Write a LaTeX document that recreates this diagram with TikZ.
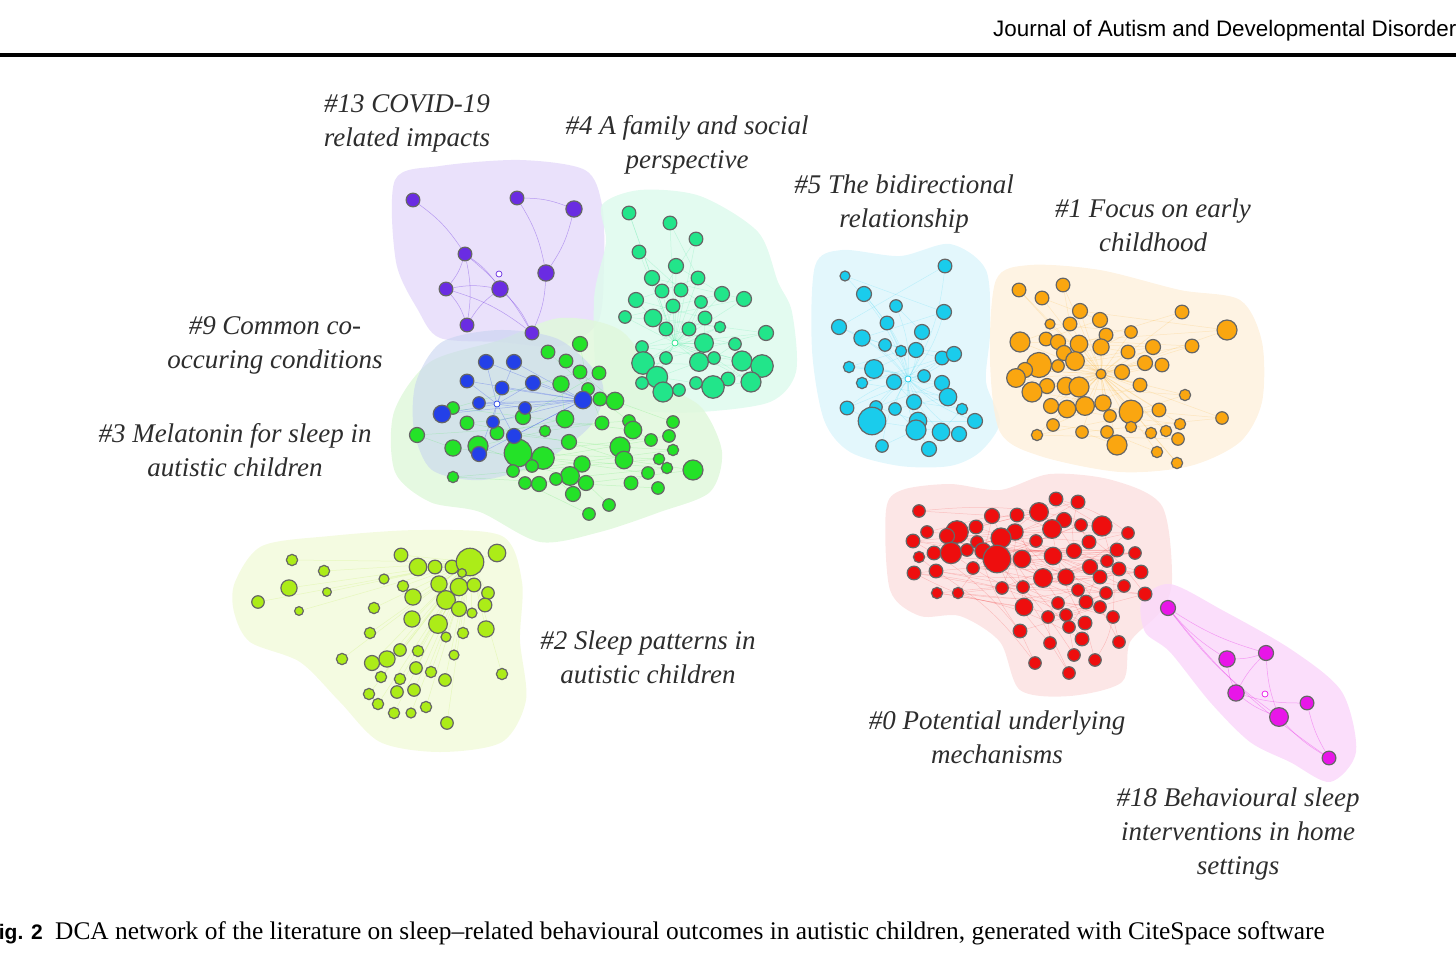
\documentclass[tikz,border=0pt]{standalone}
\usepackage{fontspec}
\setmainfont{Liberation Serif}
\setsansfont{Liberation Sans}
\pgfdeclarelayer{hull}
\pgfdeclarelayer{edges}
\pgfsetlayers{hull,edges,main}

\definecolor{covidc}{RGB}{106,44,226}
\definecolor{covidh}{RGB}{230,220,250}
\definecolor{familyc}{RGB}{34,229,138}
\definecolor{familyh}{RGB}{222,250,237}
\definecolor{comorbc}{RGB}{35,64,232}
\definecolor{comorbh}{RGB}{200,212,240}
\definecolor{melatc}{RGB}{36,226,40}
\definecolor{melath}{RGB}{224,248,220}
\definecolor{bidirc}{RGB}{26,204,236}
\definecolor{bidirh}{RGB}{222,246,252}
\definecolor{earlyc}{RGB}{250,166,16}
\definecolor{earlyh}{RGB}{254,241,222}
\definecolor{mechc}{RGB}{238,14,14}
\definecolor{mechh}{RGB}{252,226,226}
\definecolor{homec}{RGB}{232,22,232}
\definecolor{homeh}{RGB}{250,216,250}
\definecolor{patternc}{RGB}{172,236,24}
\definecolor{patternh}{RGB}{242,250,220}
\definecolor{tagc}{RGB}{45,45,45}

\tikzset{
  paper/.style={circle, inner sep=0pt, draw=black!60, line width=1.2pt},
  hollow/.style={circle, inner sep=0pt, minimum size=6pt, fill=white, line width=0.7pt},
  link/.style={line width=0.5pt, opacity=0.18},
  hullfill/.style={opacity=0.85},
  tag/.style={font=\itshape\fontsize{27}{34}\selectfont, text=tagc, align=center},
}

\begin{document}
\begin{tikzpicture}[x=1pt, y=-1pt]
\useasboundingbox (0,0) rectangle (1456,974);

% header
\node[anchor=base west, font=\sffamily\fontsize{22.4}{22}\selectfont, inner sep=0pt] (journal) at (993,37) {Journal of Autism and Developmental Disorder};
\draw[line width=3.5pt] (0,55) -- (1456,55);

% cluster hulls
\begin{pgfonlayer}{hull}
\fill[covidh, hullfill] plot[smooth cycle] coordinates {(395,180) (440,166) (520,160) (585,170) (602,205) (604,262) (598,322) (560,346) (500,342) (440,338) (418,310) (396,262)};
\fill[familyh, hullfill] plot[smooth cycle] coordinates {(602,205) (640,190) (700,196) (758,232) (778,282) (792,312) (796,372) (770,402) (700,412) (640,410) (600,392) (594,300) (606,242)};
\fill[melath, hullfill] plot[smooth cycle] coordinates {(394,412) (430,362) (500,340) (560,318) (620,330) (662,382) (702,408) (722,452) (710,492) (660,512) (600,532) (540,542) (480,512) (430,502) (395,472)};
\fill[comorbh, opacity=0.6] plot[smooth cycle] coordinates {(416,382) (442,342) (500,330) (560,340) (602,382) (592,424) (542,462) (482,480) (432,470) (414,430)};
\fill[patternh, hullfill] plot[smooth cycle] coordinates {(235,582) (262,546) (330,536) (420,530) (502,536) (522,582) (520,640) (526,700) (502,742) (440,752) (380,742) (340,702) (300,662) (250,642) (234,612)};
\fill[bidirh, hullfill] plot[smooth cycle] coordinates {(815,266) (842,250) (900,256) (950,244) (986,270) (990,332) (986,382) (1000,422) (980,452) (950,466) (900,466) (850,452) (824,420) (812,350)};
\fill[earlyh, hullfill] plot[smooth cycle] coordinates {(996,280) (1030,265) (1100,270) (1180,290) (1240,300) (1262,342) (1262,402) (1240,442) (1190,466) (1120,472) (1040,456) (1000,432) (990,360)};
\fill[mechh, hullfill] plot[smooth cycle] coordinates {(886,510) (902,490) (950,484) (1000,490) (1050,474) (1112,480) (1162,506) (1172,580) (1160,612) (1130,642) (1122,682) (1070,696) (1020,690) (1000,642) (960,616) (920,616) (890,590)};
\fill[homeh, hullfill] plot[smooth cycle] coordinates {(1142,600) (1170,584) (1222,610) (1292,650) (1342,692) (1356,752) (1330,782) (1290,762) (1250,742) (1210,702) (1170,652) (1145,632)};
\end{pgfonlayer}

% #13 COVID-19
\foreach \x/\y/\d [count=\i] in {413/200/11, 517/198/11, 574/209/13, 465/254/11, 546/273/13, 446/289/11, 500/289/13, 467/325/11, 532/333/11}
  \node[paper, fill=covidc, minimum size={1.25*\d pt}] (covid-\i) at (\x,\y) {};
\node[hollow, draw=covidc] (covid-h) at (499,274) {};
\begin{pgfonlayer}{edges}
\foreach \a/\b in {1/4, 2/5, 2/3, 3/5, 4/6, 4/7, 4/8, 4/9, 6/7, 6/9, 6/8, 7/9, 8/7, 5/9}
  \draw[link, covidc, opacity=0.4] (covid-\a) to[bend left=10] (covid-\b);
\end{pgfonlayer}

% #4 A family and social perspective
\foreach \x/\y/\d [count=\i] in {629/213/11, 670/223/11, 696/239/11, 639/252/11, 676/266/12, 652/278/12, 698/278/11, 662/291/11, 681/290/11, 722/294/12, 744/299/12, 636/300/12, 673/306/11, 701/302/10, 625/317/10, 653/318/14, 705/318/11, 666/329/11, 689/329/11, 720/327/9, 766/333/12, 704/343/15, 735/344/10, 642/347/10, 643/363/18, 666/358/10, 699/362/15, 714/358/10, 742/361/16, 762/366/18, 657/377/17, 642/383/10, 751/382/16, 728/379/11, 713/387/18, 696/383/10, 663/392/16, 679/390/10}
  {\node[paper, fill=familyc, minimum size={1.25*\d pt}] (family-\i) at (\x,\y) {}; \xdef\nfamily{\i}}
\node[hollow, draw=familyc] (family-h) at (675,343) {};
\begin{pgfonlayer}{edges}
\pgfmathtruncatemacro\lim{\nfamily-5}
\foreach \i in {1,...,\lim}{
  \pgfmathtruncatemacro\j{\i+5}
  \draw[link, familyc] (family-\i) -- (family-\j);
  \draw[link, familyc] (family-\i) -- (family-h);
}
\end{pgfonlayer}

% #3 Melatonin for sleep in autistic children
\foreach \x/\y/\d [count=\i] in {580/344/12, 548/352/11, 566/361/11, 580/372/11, 599/373/11, 561/384/13, 588/389/10, 600/399/11, 615/401/14, 453/408/10, 523/417/12, 565/419/14, 602/423/11, 629/421/10, 673/422/10, 633/430/14, 467/423/11, 497/433/11, 545/431/9, 417/435/12, 669/436/10, 651/440/10, 569/442/12, 620/447/16, 478/446/16, 453/448/13, 518/453/22, 543/458/18, 624/460/14, 673/450/9, 532/466/10, 582/464/13, 659/459/9, 667/468/9, 693/470/16, 513/471/10, 570/476/15, 648/473/10, 453/477/9, 556/479/10, 586/483/12, 525/483/10, 539/484/12, 631/483/11, 658/488/10, 573/494/12, 609/505/10, 589/514/10}
  {\node[paper, fill=melatc, minimum size={1.25*\d pt}] (melat-\i) at (\x,\y) {}; \xdef\nmelat{\i}}
\begin{pgfonlayer}{edges}
\pgfmathtruncatemacro\lim{\nmelat-6}
\foreach \i in {1,...,\lim}{
  \pgfmathtruncatemacro\j{\i+6}
  \draw[link, melatc] (melat-\i) -- (melat-\j);
}
\end{pgfonlayer}

% #9 Common co-occuring conditions
\foreach \x/\y/\d [count=\i] in {486/362/12, 514/362/12, 467/381/11, 502/388/11, 533/383/12, 479/403/10, 525/408/10, 442/414/14, 493/422/10, 514/436/12, 479/454/12, 583/400/14}
  {\node[paper, fill=comorbc, minimum size={1.25*\d pt}] (comorb-\i) at (\x,\y) {}; \xdef\ncomorb{\i}}
\node[hollow, draw=comorbc] (comorb-h) at (497,404) {};
\begin{pgfonlayer}{edges}
\foreach \i in {1,...,\ncomorb}{
  \draw[link, comorbc, opacity=0.3] (comorb-\i) -- (comorb-h);
  \draw[link, comorbc, opacity=0.3] (comorb-\i) -- (comorb-12);
}
\end{pgfonlayer}

% #2 Sleep patterns in autistic children
\foreach \x/\y/\d [count=\i] in {292/560/9, 324/571/9, 289/588/13, 327/592/7, 258/602/10, 299/611/7, 401/555/11, 418/567/14, 435/567/11, 452/567/11, 470/562/22, 497/553/14, 462/573/7, 384/579/8, 403/586/9, 439/584/13, 459/587/14, 474/585/11, 488/593/10, 413/597/13, 446/600/15, 485/605/11, 374/608/9, 459/609/12, 472/613/8, 412/619/13, 438/624/15, 486/629/13, 446/637/8, 463/633/9, 370/633/9, 400/650/10, 418/651/9, 454/655/8, 342/659/9, 372/663/12, 387/659/13, 416/668/10, 431/672/9, 502/674/9, 381/677/9, 400/679/9, 445/680/10, 397/692/10, 414/690/10, 369/694/9, 378/704/9, 394/713/9, 411/713/8, 426/707/9, 447/723/10}
  {\node[paper, fill=patternc, minimum size={1.25*\d pt}] (pattern-\i) at (\x,\y) {}; \xdef\npattern{\i}}
\begin{pgfonlayer}{edges}
\foreach \i in {1,...,\npattern}
  \draw[link, patternc] (pattern-\i) -- (pattern-11);
\end{pgfonlayer}

% #5 The bidirectional relationship
\foreach \x/\y/\d [count=\i] in {845/276/8, 945/266/11, 864/294/12, 896/306/10, 944/312/12, 839/327/12, 887/323/11, 922/332/12, 862/338/13, 885/345/10, 901/351/9, 916/350/12, 942/358/11, 954/354/12, 849/367/9, 874/369/15, 862/383/9, 894/382/12, 924/376/10, 942/383/12, 948/397/14, 914/402/12, 847/408/11, 876/407/10, 895/409/10, 962/409/9, 872/421/22, 918/421/14, 916/430/16, 941/432/14, 959/434/12, 975/421/12, 882/446/10, 929/449/12}
  {\node[paper, fill=bidirc, minimum size={1.25*\d pt}] (bidir-\i) at (\x,\y) {}; \xdef\nbidir{\i}}
\node[hollow, draw=bidirc] (bidir-h) at (908,379) {};
\begin{pgfonlayer}{edges}
\foreach \i in {1,...,\nbidir}
  \draw[link, bidirc] (bidir-\i) to[bend left=12] (bidir-h);
\pgfmathtruncatemacro\lim{\nbidir-4}
\foreach \i in {1,...,\lim}{
  \pgfmathtruncatemacro\j{\i+4}
  \draw[link, bidirc] (bidir-\i) -- (bidir-\j);
}
\end{pgfonlayer}

% #1 Focus on early childhood
\foreach \x/\y/\d [count=\i] in {1019/290/11, 1063/285/11, 1042/298/11, 1080/311/12, 1182/312/11, 1050/324/8, 1070/324/11, 1100/320/12, 1227/330/16, 1106/335/11, 1131/332/10, 1020/342/16, 1046/339/11, 1058/342/12, 1079/344/14, 1101/347/13, 1153/347/12, 1192/346/11, 1064/353/12, 1128/352/11, 1039/365/20, 1075/361/15, 1025/370/12, 1058/366/10, 1145/363/12, 1162/365/11, 1016/378/15, 1101/374/8, 1122/372/12, 1047/386/12, 1066/386/14, 1079/387/16, 1140/385/11, 1032/392/16, 1185/395/9, 1051/406/12, 1067/409/14, 1085/406/15, 1103/403/13, 1131/412/19, 1110/416/10, 1159/410/11, 1222/418/10, 1053/425/10, 1131/427/9, 1180/424/9, 1037/435/9, 1082/432/10, 1107/432/10, 1151/433/9, 1166/431/9, 1178/439/10, 1117/445/16, 1157/452/9, 1177/463/9}
  {\node[paper, fill=earlyc, minimum size={1.25*\d pt}] (early-\i) at (\x,\y) {}; \xdef\nearly{\i}}
\begin{pgfonlayer}{edges}
\foreach \i in {1,...,\nearly}
  \draw[link, earlyc] (early-\i) -- (early-28);
\pgfmathtruncatemacro\lim{\nearly-5}
\foreach \i in {1,...,\lim}{
  \pgfmathtruncatemacro\j{\i+5}
  \draw[link, earlyc] (early-\i) -- (early-\j);
}
\end{pgfonlayer}

% #0 Potential underlying mechanisms
\foreach \x/\y/\d [count=\i] in {919/511/10, 1056/499/11, 1078/502/11, 1039/512/15, 992/516/12, 1017/515/11, 1064/520/12, 1102/526/16, 957/532/18, 976/527/11, 927/532/10, 1052/529/15, 1015/532/13, 1081/525/10, 1128/533/10, 947/536/12, 1001/538/16, 913/541/11, 977/542/10, 1036/541/10, 1089/542/11, 934/553/11, 951/553/17, 967/550/10, 983/551/13, 997/559/22, 1022/559/14, 1053/556/14, 1074/551/12, 1117/550/11, 1135/553/10, 919/557/9, 1107/561/10, 1090/567/12, 1119/569/11, 973/568/10, 914/573/11, 936/571/11, 1043/578/15, 1066/577/13, 1100/577/11, 1141/572/11, 1002/588/10, 1023/587/10, 1078/590/10, 1124/586/10, 937/593/9, 958/593/9, 1106/593/10, 1145/594/11, 1058/603/10, 1086/602/11, 1024/607/14, 1100/607/10, 1048/617/10, 1066/615/10, 1113/617/10, 1069/627/10, 1085/623/11, 1020/631/11, 1050/643/10, 1082/639/11, 1119/642/10, 1074/655/10, 1095/660/10, 1035/663/10, 1069/673/10}
  {\node[paper, fill=mechc, minimum size={1.25*\d pt}] (mech-\i) at (\x,\y) {}; \xdef\nmech{\i}}
\begin{pgfonlayer}{edges}
\pgfmathtruncatemacro\lim{\nmech-6}
\foreach \i in {1,...,\lim}{
  \pgfmathtruncatemacro\j{\i+6}
  \pgfmathtruncatemacro\k{mod(\i*7,\nmech)+1}
  \draw[link, mechc] (mech-\i) -- (mech-\j);
  \draw[link, mechc] (mech-\i) to[bend left=10] (mech-\k);
}
\end{pgfonlayer}

% #18 Behavioural sleep interventions in home settings
\foreach \x/\y/\d [count=\i] in {1168/608/12, 1227/659/13, 1266/653/12, 1236/693/13, 1307/703/11, 1279/717/15, 1329/758/11}
  \node[paper, fill=homec, minimum size={1.25*\d pt}] (home-\i) at (\x,\y) {};
\node[hollow, draw=homec] (home-h) at (1265,694) {};
\begin{pgfonlayer}{edges}
\foreach \a/\b in {1/2, 1/3, 1/6, 1/7, 2/3, 2/4, 3/4, 3/6, 4/5, 4/6, 6/7, 5/7}
  \draw[link, homec, opacity=0.35] (home-\a) to[bend right=8] (home-\b);
\end{pgfonlayer}

% cluster labels
\node[tag] (tag13) at (407,123) {\#13 COVID-19\\related impacts};
\node[tag] (tag4) at (687,145) {\#4 A family and social\\perspective};
\node[tag] (tag5) at (904,204) {\#5 The bidirectional\\relationship};
\node[tag] (tag1) at (1153,225) {\#1 Focus on early\\childhood};
\node[tag] (tag9) at (275,345) {\#9 Common co-\\occuring conditions};
\node[tag] (tag3) at (235,450) {\#3 Melatonin for sleep in\\autistic children};
\node[tag] (tag2) at (648,657) {\#2 Sleep patterns in\\autistic children};
\node[tag] (tag0) at (997,737) {\#0 Potential underlying\\mechanisms};
\node[tag] (tag18) at (1238,834) {\#18 Behavioural sleep\\interventions in home\\settings};

% caption
\node[anchor=base east, font=\sffamily\bfseries\fontsize{21}{21}\selectfont, inner sep=0pt] (fignum) at (43,939) {ig. 2};
\node[anchor=base west, font=\fontsize{25.4}{25}\selectfont, inner sep=0pt] (caption) at (55,939) {DCA network of the literature on sleep–related behavioural outcomes in autistic children, generated with CiteSpace software};
\end{tikzpicture}
\end{document}
